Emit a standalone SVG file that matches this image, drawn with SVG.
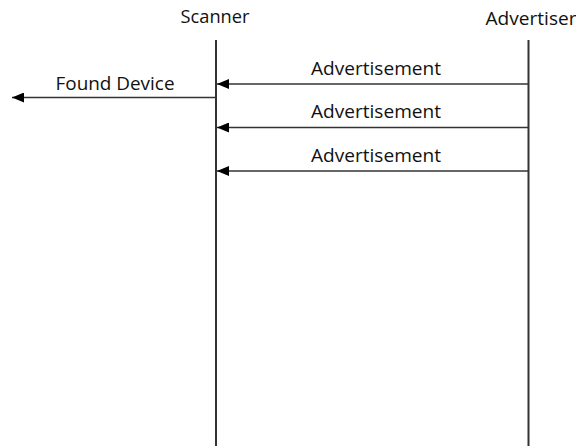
<svg xmlns="http://www.w3.org/2000/svg" width="576" height="446" viewBox="0 0 576 446">
<style>
text{font-family:"Open Sans","Liberation Sans",Arial,sans-serif;font-size:18px;fill:#111}
.life{stroke:#333;stroke-width:2;fill:none}
.msg{stroke:#333;stroke-width:1.5;fill:none;marker-end:url(#ah)}
</style>
<defs>
<marker id="ah" markerWidth="12" markerHeight="10" refX="12" refY="5" orient="auto" markerUnits="userSpaceOnUse">
<path d="M0,0 L12,5 L0,10 Z" fill="#000"/>
</marker>
</defs>
<rect width="576" height="446" fill="#fff"/>
<g id="scanner">
<text x="215" y="23" text-anchor="middle" textLength="69" lengthAdjust="spacingAndGlyphs">Scanner</text>
<line class="life" x1="216" y1="40" x2="216" y2="446"/>
</g>
<g id="advertiser">
<text x="531" y="25" text-anchor="middle" textLength="91" lengthAdjust="spacingAndGlyphs">Advertiser</text>
<line class="life" x1="528.5" y1="40" x2="528.5" y2="446"/>
</g>
<g id="connectors">
<line class="msg" x1="528" y1="84" x2="217" y2="84"/>
<line class="msg" x1="528" y1="127.5" x2="217" y2="127.5"/>
<line class="msg" x1="528" y1="171" x2="217" y2="171"/>
<line class="msg" x1="216" y1="97.5" x2="12" y2="97.5"/>
<text x="376" y="75" text-anchor="middle" textLength="130" lengthAdjust="spacingAndGlyphs">Advertisement</text>
<text x="376" y="118" text-anchor="middle" textLength="130" lengthAdjust="spacingAndGlyphs">Advertisement</text>
<text x="376" y="162" text-anchor="middle" textLength="130" lengthAdjust="spacingAndGlyphs">Advertisement</text>
<text x="115" y="90" text-anchor="middle" textLength="119" lengthAdjust="spacingAndGlyphs">Found Device</text>
</g>
</svg>
